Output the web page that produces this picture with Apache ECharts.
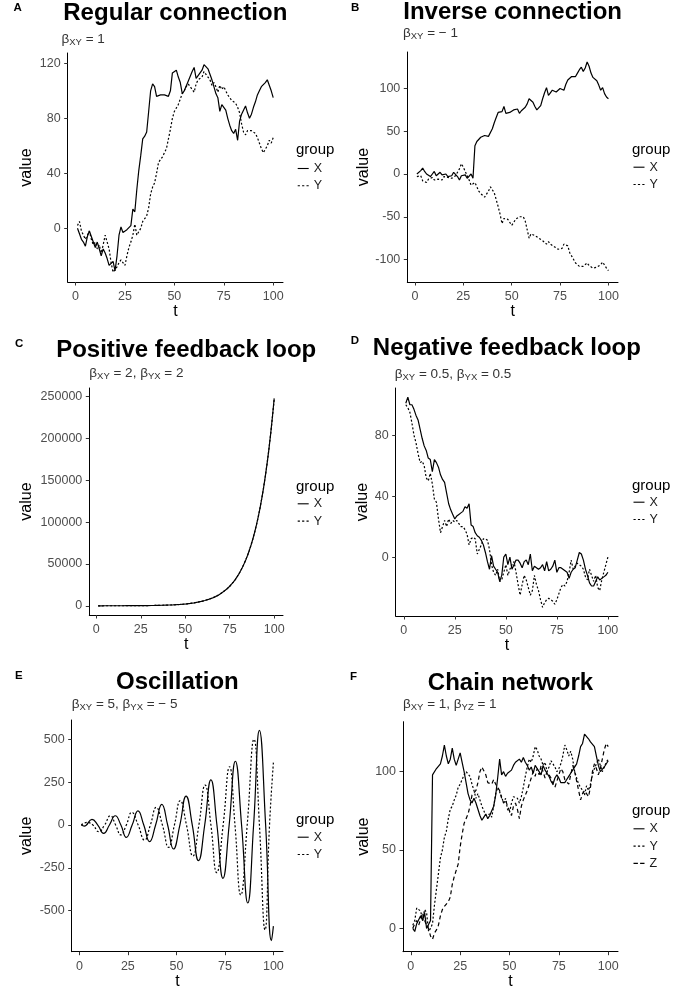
<!DOCTYPE html>
<html><head><meta charset="utf-8">
<script src="https://cdn.jsdelivr.net/npm/echarts@6/dist/echarts.min.js"></script>
<style>html,body{margin:0;padding:0;background:#fff}#c{width:696px;height:989px}</style>
</head><body><div id="c"></div>
<script>
// ---------- data ----------
const T = Array.from({length: 100}, (_, i) => i + 1);
const T_TICKS = [0, 25, 50, 75, 100];

const A_TICKS = [0, 40, 80, 120];
const A_X = [0,-4,-8,-10,-13,-6,-2,-6,-10,-14,
 -10,-15,-20,-15,-18,-22,-27,-27,-24,-31,
 -20,-5,1,-3,-2,-1,0,2,14,12,
 28,42,53,65,67,70,85,100,105,103,
 96,97,97,96,97,96,96,100,113,114,
 115,110,106,98,100,101,107,108,114,117,
 109,110,113,115,119,119,116,112,108,103,
 98,95,85,90,91,86,80,75,71,69,
 72,64,78,83,82,89,84,80,83,88,
 92,97,100,103,104,106,108,104,100,95];
const A_Y = [2,5,-2,-5,-8,-5,-2,-8,-12,-10,
 -15,-12,-18,-12,-5,-4,-15,-25,-32,-30,
 -28,-25,-23,-24,-27,-20,-14,-10,-5,3,
 -5,-6,0,5,7,9,15,25,30,33,
 40,48,50,52,52,58,65,72,80,85,
 84,90,89,98,100,103,105,103,101,99,
 105,108,107,110,114,112,110,108,104,106,
 103,99,104,101,103,100,97,96,93,93,
 91,88,84,76,70,68,71,71,71,71,
 69,66,62,58,55,54,60,64,62,66];

const B_TICKS = [-100, -50, 0, 50, 100];
const B_X = [0,-2,4,7,3,0,2,-3,0,3,
 -2,0,2,-1,1,0,-3,-1,-2,2,
 0,-3,-7,-2,-4,-1,-5,-3,0,-5,
 33,38,40,43,45,45,47,44,42,53,
 60,66,72,72,73,79,71,71,72,74,
 75,74,76,71,74,76,78,82,88,87,
 84,79,75,77,80,88,95,101,92,95,
 98,97,96,98,100,99,98,105,110,112,
 114,115,114,118,122,125,120,124,131,126,
 118,113,111,109,104,98,101,94,90,88];
const B_Y = [-3,-5,-2,-8,-8,-10,-6,-8,-4,-7,
 -9,-6,-5,-7,-3,-5,-4,-2,-5,-3,
 -2,2,6,12,8,3,-2,-7,-13,-12,
 -10,-15,-20,-23,-22,-27,-29,-20,-15,-17,
 -22,-30,-38,-47,-58,-52,-50,-53,-55,-60,
 -57,-53,-52,-50,-49,-50,-55,-65,-75,-70,
 -70,-72,-74,-75,-77,-78,-80,-82,-79,-82,
 -80,-85,-86,-88,-90,-87,-82,-80,-84,-92,
 -96,-100,-104,-106,-108,-110,-108,-106,-104,-107,
 -108,-110,-110,-109,-107,-106,-103,-105,-110,-113];

const C_TICKS = [0, 50000, 100000, 150000, 200000, 250000];
const C_X = [22,24,26,29,32,35,39,42,47,51,
 56,62,68,75,80,90,100,110,120,130,
 145,160,170,190,210,230,250,280,300,330,
 370,400,440,490,530,590,640,710,780,850,
 940,1030,1130,1250,1370,1500,1650,1800,2000,2200,
 2400,2700,2900,3200,3500,3900,4300,4700,5200,5700,
 6300,6900,7600,8300,9100,10000,11000,12100,13300,14600,
 16100,17700,19400,21300,23400,25800,28300,31100,34200,37600,
 41300,45400,49900,54800,60200,66200,72700,79900,87800,96500,
 106100,116600,128100,140800,154700,170000,186800,205300,225700,248000];
const C_Y = [22,24,26,29,32,35,39,42,47,51,
 56,62,68,75,80,90,100,110,120,130,
 145,160,170,190,210,230,250,280,300,330,
 370,400,440,490,530,590,640,710,780,850,
 940,1030,1130,1250,1370,1500,1650,1800,2000,2200,
 2400,2700,2900,3200,3500,3900,4300,4700,5200,5700,
 6300,6900,7600,8300,9100,10000,11000,12100,13300,14600,
 16100,17700,19400,21300,23400,25800,28300,31100,34200,37600,
 41300,45400,49900,54800,60200,66200,72700,79900,87800,96500,
 106100,116600,128100,140800,154700,170000,186800,205300,225700,247000];

const D_TICKS = [0, 40, 80];
const D_X = [101,105,100,100,97,93,90,84,78,73,
 70,65,64,56,64,62,59,54,51,49,
 42,35,31,28,25,27,28,29,30,33,
 32,35,21,20,16,14,13,11,8,3,
 -3,-8,1,-6,-8,-10,-16,-12,0,2,
 -5,0,-8,-5,-2,-2,-4,-7,-3,-2,
 -5,2,-9,-6,-7,-8,-7,-5,-9,-3,
 -9,-8,-6,-2,-10,-7,-7,-8,-9,-10,
 -14,-10,-8,-7,-2,3,2,-2,-8,-12,
 -17,-19,-19,-16,-13,-15,-14,-13,-12,-10];
const D_Y = [100,98,95,88,80,75,68,62,63,60,
 52,50,55,48,38,36,25,16,20,24,
 20,25,22,24,23,24,22,20,20,18,
 15,8,12,13,12,2,5,8,12,12,
 11,5,-5,-10,-12,-8,-16,-15,-10,-5,
 -12,-8,-5,-3,-10,-18,-25,-18,-12,-15,
 -20,-25,-22,-12,-18,-22,-28,-33,-30,-28,
 -27,-28,-29,-31,-28,-24,-20,-18,-19,-16,
 -10,-2,-8,-6,-4,-5,-6,-8,-13,-15,
 -8,-12,-16,-12,-20,-22,-15,-10,-5,0];

const E_TICKS = [-500, -250, 0, 250, 500];
// oscillation: turning points and zero crossings
const E_X_T = [1,2.5,6.5,9.5,12.5,15.5,18.5,21.4,24.2,27.2,30.2,33.2,36.2,39.3,42.5,45.5,48.5,51.8,55,58.2,61.4,64.6,67.8,70.9,74,77.2,80.4,83.6,86.8,89.8,92.8,96,99,100];
const E_X_V = [0,-6,33,0,-49,0,54,0,-72,0,82,0,-97,0,120,0,-140,0,169,0,-208,0,263,0,-311,0,372,0,-455,0,552,0,-675,-590];
const E_Y_T = [1,4,7,10,13,16,18.7,21.4,24.2,27,30.3,33.6,36.6,39.6,42.8,46,49,52,55.2,58.5,61.6,64.8,67.8,70.8,74.1,77.4,80.2,83.2,86.5,90,92.8,95.7,98,100];
const E_Y_V = [0,15,0,-39,0,54,0,-58,0,74,0,-88,0,103,0,-130,0,142,0,-181,0,233,0,-278,0,340,0,-408,0,500,0,-612,0,364];

const F_TICKS = [0, 50, 100];
const F_X = [0,-2,3,2,8,5,10,0,-1,5,
 98,97,102,102,105,110,117,110,105,108,
 115,108,104,103,112,106,100,93,86,82,
 80,83,80,76,72,69,71,73,70,72,
 75,78,85,96,108,98,100,97,99,100,
 101,104,106,107,108,106,109,106,104,101,
 103,99,104,102,100,98,104,101,99,97,
 94,92,96,98,96,93,92,93,95,97,
 99,101,100,105,110,116,118,124,125,121,
 119,120,116,110,104,100,101,103,104,107];
const F_Y = [2,5,13,12,11,5,12,10,-2,0,
 3,15,25,35,45,50,58,62,70,76,
 78,82,85,90,92,95,98,100,99,97,
 92,88,83,86,82,78,75,72,72,73,
 71,78,86,90,87,84,80,83,76,74,
 80,84,85,83,80,84,90,97,103,108,
 106,110,116,114,110,108,104,106,100,103,
 107,105,103,100,102,105,110,117,114,110,
 113,108,100,96,92,90,88,85,91,88,
 92,98,102,105,108,104,100,103,106,108];
const F_Z = [0,3,5,2,6,10,5,2,0,-5,
 -7,-3,-1,2,8,12,14,15,17,20,
 28,33,37,41,52,60,67,70,73,78,
 85,84,88,93,100,103,102,98,93,93,
 92,95,92,90,88,83,80,82,78,75,
 72,78,80,76,70,78,82,85,88,92,
 96,100,97,102,98,104,100,96,100,98,
 96,92,90,94,98,102,100,95,96,92,
 98,104,100,94,88,82,86,88,86,84,
 90,100,105,102,98,102,108,114,118,116];

// ---------- layout ----------
const FONT = '"Liberation Sans", Arial, Helvetica, sans-serif';
const X_RANGE = [-3.95, 104.95];
const pair = (xs, ys) => xs.map((x, i) => [x, ys[i]]);

const panels = [
 {letter:'A', lx:13.5, ly:8, title:'Regular connection', tx:175.3, ty:13.8,
  sub:'{n|β}{s|XY}{n| = 1}', sx:61.5, sy:39,
  g:[67.7,53,215.3,229], y:[-39.05,127.5], yt:A_TICKS, yGap:33.6, xGap:21,
  gx:296, gy:150, lgx:297.7, lgy:162,
  ser:[['X',pair(T,A_X),'solid'],['Y',pair(T,A_Y),'dotted']]},
 {letter:'B', lx:351, ly:7.5, title:'Inverse connection', tx:512.6, ty:12.5,
  sub:'{n|β}{s|XY}{n| = − 1}', sx:403, sy:33,
  g:[407.3,52,210.7,230], y:[-126.3,142.7], yt:B_TICKS, yGap:36.2, xGap:22,
  gx:632, gy:150, lgx:633.5, lgy:160.7,
  ser:[['X',pair(T,B_X),'solid'],['Y',pair(T,B_Y),'dotted']]},
 {letter:'C', lx:15, ly:344, title:'Positive feedback loop', tx:186.2, ty:350,
  sub:'{n|β}{s|XY}{n| = 2, β}{s|YX}{n| = 2}', sx:89.3, sy:373.3,
  g:[89.3,388,193.7,227], y:[-11000,260400], yt:C_TICKS, yGap:55.2, xGap:20,
  gx:296, gy:486.7, lgx:297.7, lgy:497.3,
  ser:[['X',pair(T,C_X),'solid'],['Y',pair(T,C_Y),'dotted']]},
 {letter:'D', lx:350.7, ly:341, title:'Negative feedback loop', tx:506.9, ty:348.5,
  sub:'{n|β}{s|XY}{n| = 0.5, β}{s|YX}{n| = 0.5}', sx:394.7, sy:374,
  g:[395.7,388,222.3,228], y:[-38.7,111.0], yt:D_TICKS, yGap:25.3, xGap:19,
  gx:632, gy:485.7, lgx:633.5, lgy:495.7,
  ser:[['X',pair(T,D_X),'solid'],['Y',pair(T,D_Y),'dotted']]},
 {letter:'E', lx:15, ly:676, title:'Oscillation', tx:177.4, ty:682.5,
  sub:'{n|β}{s|XY}{n| = 5, β}{s|YX}{n| = − 5}', sx:71.7, sy:704,
  g:[71.7,720,211.3,231.7], y:[-739,612.6], yt:E_TICKS, yGap:37.6, xGap:18,
  gx:296, gy:820, lgx:297.7, lgy:830.7, smooth:true,
  ser:[['X',pair(E_X_T,E_X_V),'solid'],['Y',pair(E_Y_T,E_Y_V),'dotted']]},
 {letter:'F', lx:350, ly:677, title:'Chain network', tx:510.5, ty:683.5,
  sub:'{n|β}{s|XY}{n| = 1, β}{s|YZ}{n| = 1}', sx:403, sy:704.5,
  g:[403,721.7,215,230], y:[-14.9,131.9], yt:F_TICKS, yGap:31.9, xGap:19.5,
  gx:632, gy:811, lgx:633.5, lgy:822.3,
  ser:[['X',pair(T,F_X),'solid'],['Y',pair(T,F_Y),'dotted'],['Z',pair(T,F_Z),'dashed']]}
];

const DASH = {solid:'solid', dotted:[2,2], dashed:[4,3]};
const ICON = {
  solid:'path://M0,0h10v1h-10z',
  dotted:'path://M0,0h2v1h-2zM4,0h2v1h-2zM8,0h2v1h-2z',
  dashed:'path://M0,0h4v1h-4zM6,0h4v1h-4z'
};
const grids = [], xAxes = [], yAxes = [], series = [], legends = [], graphics = [];
const subRich = {
  n:{fontSize:13.5, lineHeight:14, fill:'#333', fontFamily:FONT},
  s:{fontSize:9.5, lineHeight:10, padding:[6,0,0,0], fill:'#333', fontFamily:FONT}
};

panels.forEach((p, i) => {
  grids.push({left:p.g[0], top:p.g[1], width:p.g[2], height:p.g[3], containLabel:false, outerBoundsMode:'none'});
  const axisCommon = {
    axisLine:{show:true, onZero:false, lineStyle:{color:'#000', width:1}},
    splitLine:{show:false}, nameLocation:'middle',
    nameTextStyle:{fontSize:16, color:'#000', fontFamily:FONT}
  };
  xAxes.push(Object.assign({}, axisCommon, {
    type:'value', gridIndex:i, min:X_RANGE[0], max:X_RANGE[1], name:'t', nameGap:p.xGap,
    axisTick:{show:true, length:3.5, customValues:T_TICKS, lineStyle:{color:'#333', width:1}},
    axisLabel:{customValues:T_TICKS, fontSize:12.5, color:'#4d4d4d', margin:8, fontFamily:FONT, formatter:v=>String(v)}
  }));
  yAxes.push(Object.assign({}, axisCommon, {
    type:'value', gridIndex:i, min:p.y[0], max:p.y[1], name:'value', nameGap:p.yGap,
    axisTick:{show:true, length:3.5, customValues:p.yt, lineStyle:{color:'#333', width:1}},
    axisLabel:{customValues:p.yt, fontSize:12.5, color:'#4d4d4d', margin:7, fontFamily:FONT, formatter:v=>String(v)}
  }));
  p.ser.forEach(s => {
    series.push({
      type:'line', name:s[0], xAxisIndex:i, yAxisIndex:i, data:s[1],
      symbol:'none', showSymbol:false, smooth: p.smooth ? 0.5 : false,
      lineStyle:{color:'#000', width:1.2, type:DASH[s[2]]},
      itemStyle:{color:'#000'}, emphasis:{disabled:true}, silent:true
    });
  });
  legends.push({
    data:p.ser.map(s => ({name:s[0], icon:ICON[s[2]]})), orient:'vertical', left:p.lgx, top:p.lgy,
    itemWidth:11, itemHeight:1.3, itemGap:4.3, padding:0, selectedMode:false,
    itemStyle:{color:'#000', borderWidth:0},
    textStyle:{fontSize:12.5, lineHeight:12, color:'#1a1a1a', fontFamily:FONT}
  });
  graphics.push({type:'text', x:p.lx, y:p.ly, style:{text:p.letter, fontSize:11.5, fontWeight:'bold', fontFamily:FONT, fill:'#000', align:'left', verticalAlign:'middle'}});
  graphics.push({type:'text', x:p.tx, y:p.ty, style:{text:p.title, fontSize:24, fontWeight:'bold', fontFamily:FONT, fill:'#000', align:'center', verticalAlign:'middle'}});
  graphics.push({type:'text', x:p.sx, y:p.sy, style:{text:p.sub, rich:subRich, fontSize:13.5, fontFamily:FONT, fill:'#333', align:'left', verticalAlign:'middle'}});
  graphics.push({type:'text', x:p.gx, y:p.gy, style:{text:'group', fontSize:15, fontFamily:FONT, fill:'#000', align:'left', verticalAlign:'middle'}});
});

const chart = echarts.init(document.getElementById('c'), null, {renderer:'canvas'});
chart.setOption({
  animation:false, backgroundColor:'#fff',
  textStyle:{fontFamily:FONT},
  grid:grids, xAxis:xAxes, yAxis:yAxes, series:series, legend:legends,
  graphic:{elements:graphics}
});
</script>
</body></html>
